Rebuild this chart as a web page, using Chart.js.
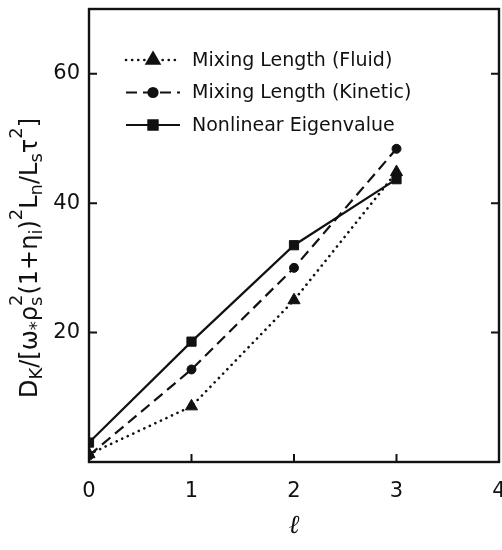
<!DOCTYPE html>
<html>
<head>
<meta charset="utf-8">
<script src="https://cdn.jsdelivr.net/npm/chart.js@4/dist/chart.umd.min.js"></script>
<style>
  html, body { margin: 0; padding: 0; background: #fff; }
  #wrap { width: 502px; height: 550px; }
</style>
</head>
<body>
<div id="wrap"><canvas id="c" width="502" height="550"></canvas></div>
<script>
// ── Data ───────────────────────────────────────────────────────────────
const ellValues   = [0, 1, 2, 3];
const fluidVals   = [1.2, 8.6, 25.0, 44.8];
const kineticVals = [1.0, 14.3, 30.0, 48.4];
const eigenVals   = [3.0, 18.6, 33.5, 43.7];
const xTicks      = [0, 1, 2, 3, 4];
const yTicks      = [20, 40, 60];
const seriesNames = ['Mixing Length (Fluid)', 'Mixing Length (Kinetic)', 'Nonlinear Eigenvalue'];

const INK  = '#111';
const FONT = '"DejaVu Sans", sans-serif';

const pts = vals => ellValues.map((x, i) => ({ x, y: vals[i] }));

// ── Plugin: frame, inward ticks, legend, axis titles ───────────────────
const paperPlugin = {
  id: 'paper',
  afterDraw(chart) {
    const { ctx, chartArea: a, scales } = chart;
    ctx.save();
    ctx.strokeStyle = INK;
    ctx.lineWidth = 2.4;
    ctx.strokeRect(a.left, a.top, a.right - a.left, a.bottom - a.top);

    // inward ticks
    ctx.lineWidth = 2;
    const tl = 8;
    yTicks.forEach(v => {
      const y = scales.y.getPixelForValue(v);
      ctx.beginPath();
      ctx.moveTo(a.left, y); ctx.lineTo(a.left + tl, y);
      ctx.moveTo(a.right, y); ctx.lineTo(a.right - tl, y);
      ctx.stroke();
    });
    xTicks.slice(1, -1).forEach(v => {
      const x = scales.x.getPixelForValue(v);
      ctx.beginPath();
      ctx.moveTo(x, a.bottom); ctx.lineTo(x, a.bottom - tl);
      ctx.stroke();
    });

    // legend
    const lx = 126, ly = 60, gap = 32.5;
    chart.data.datasets.forEach((ds, i) => {
      const y = ly + i * gap;
      ctx.save();
      ctx.strokeStyle = INK;
      ctx.lineWidth = ds.borderWidth;
      ctx.lineCap = ds.borderCapStyle || 'butt';
      ctx.setLineDash(ds.borderDash || []);
      ctx.beginPath(); ctx.moveTo(lx, y); ctx.lineTo(lx + 54, y); ctx.stroke();
      ctx.setLineDash([]);
      Chart.helpers.drawPoint(ctx, {
        pointStyle: ds.pointStyle, radius: ds.pointRadius, borderWidth: 1, rotation: 0
      }, lx + 27, y);
      ctx.fillStyle = INK;
      ctx.fill();
      ctx.restore();
      ctx.fillStyle = INK;
      ctx.font = '19px ' + FONT;
      ctx.textBaseline = 'middle';
      ctx.fillText(ds.label, lx + 66, y + 1);
    });

    // x title
    ctx.font = 'italic 26px "DejaVu Serif", serif';
    ctx.textAlign = 'center';
    ctx.textBaseline = 'middle';
    ctx.fillText('ℓ', scales.x.getPixelForValue(2), 526);

    // y title with sub/superscripts
    const segs = [
      ['D'], ['K', 'sub'], ['/[ω'], ['*', 'sub'], ['ρ'], ['2', 'both', 's'],
      ['(1+η'], ['i', 'sub'], [')'], ['2', 'sup'], ['L'], ['n', 'sub'],
      ['/L'], ['s', 'sub'], ['τ'], ['2', 'sup'], [']']
    ];
    const base = '24px ' + FONT, small = '18px ' + FONT;
    let total = 0;
    const widths = segs.map(s => {
      ctx.font = s[1] ? small : base;
      let w = ctx.measureText(s[0]).width;
      if (s[1] === 'both') w = Math.max(w, ctx.measureText(s[2]).width);
      total += w;
      return w;
    });
    ctx.translate(29, 258);
    ctx.rotate(-Math.PI / 2);
    ctx.textAlign = 'left';
    ctx.textBaseline = 'alphabetic';
    let cx = -total / 2;
    segs.forEach((s, i) => {
      if (!s[1]) { ctx.font = base; ctx.fillText(s[0], cx, 8); }
      else {
        ctx.font = small;
        if (s[1] === 'sub') ctx.fillText(s[0], cx, 13);
        if (s[1] === 'sup') ctx.fillText(s[0], cx, -7);
        if (s[1] === 'both') { ctx.fillText(s[0], cx, -7); ctx.fillText(s[2], cx, 13); }
      }
      cx += widths[i];
    });
    ctx.restore();
  }
};

// ── Chart ──────────────────────────────────────────────────────────────
const common = { showLine: true, borderColor: INK, backgroundColor: INK, pointBackgroundColor: INK,
                 pointBorderColor: INK, borderWidth: 2.2, pointBorderWidth: 1, tension: 0 };

new Chart(document.getElementById('c').getContext('2d'), {
  type: 'scatter',
  data: {
    datasets: [
      { ...common, label: seriesNames[0], data: pts(fluidVals),   borderDash: [0.1, 6], borderCapStyle: 'round', borderWidth: 2.6,
        pointStyle: 'triangle', pointRadius: 7 },
      { ...common, label: seriesNames[1], data: pts(kineticVals), borderDash: [11, 6], pointStyle: 'circle', pointRadius: 4.5 },
      { ...common, label: seriesNames[2], data: pts(eigenVals),   pointStyle: 'rect', pointRadius: 6.5 }
    ]
  },
  options: {
    responsive: false,
    animation: false,
    layout: { autoPadding: false, padding: { top: 9, right: 3, left: 0, bottom: 0 } },
    plugins: { legend: { display: false }, tooltip: { enabled: false } },
    scales: {
      x: {
        type: 'linear', min: 0, max: 4,
        afterBuildTicks: s => { s.ticks = xTicks.map(v => ({ value: v })); },
        afterFit: s => { s.height = 88; s.paddingLeft = 0; s.paddingRight = 0; },
        grid: { display: false, drawTicks: false },
        border: { display: false },
        ticks: { color: INK, font: { family: FONT, size: 21 }, padding: 17, maxRotation: 0, callback: v => v }
      },
      y: {
        type: 'linear', min: 0, max: 70,
        afterBuildTicks: s => { s.ticks = yTicks.map(v => ({ value: v })); },
        afterFit: s => { s.width = 89; s.paddingTop = 0; s.paddingBottom = 0; },
        grid: { display: false, drawTicks: false },
        border: { display: false },
        ticks: { color: INK, font: { family: FONT, size: 21 }, padding: 9, callback: v => v }
      }
    }
  },
  plugins: [paperPlugin]
});
</script>
</body>
</html>
